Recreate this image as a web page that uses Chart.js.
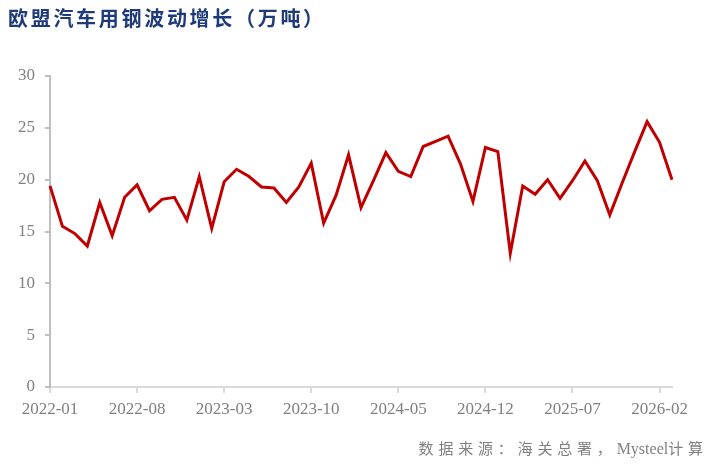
<!DOCTYPE html>
<html>
<head>
<meta charset="utf-8">
<script src="https://cdn.jsdelivr.net/npm/chart.js@4"></script>
<style>
  html, body { margin: 0; padding: 0; background: #ffffff; }
  #wrap { position: relative; width: 709px; height: 472px; overflow: hidden; }
  #chart { position: absolute; left: 0; top: 0; }
  #title { position: absolute; left: 8px; top: 3px; font-family: "Noto Sans CJK SC", sans-serif; font-weight: bold; font-size: 20px; letter-spacing: 2.7px; color: #1E3A78; white-space: nowrap; }
  #source { position: absolute; right: 6px; top: 437px; font-family: "Liberation Serif", "Noto Sans CJK SC", serif; font-size: 15px; color: #808080; white-space: nowrap; }
  #source .cjk { letter-spacing: 4.8px; }
  #source .lat { letter-spacing: 0; font-size: 16px; }
  #source .last { letter-spacing: 0; }
</style>
</head>
<body>
<div id="wrap">
  <canvas id="chart" width="709" height="472"></canvas>
  <div id="title">欧盟汽车用钢波动增长（万吨）</div>
  <div id="source"><span class="cjk">数据来源：海关总署，</span><span class="lat">Mysteel</span><span class="cjk">计</span><span class="last">算</span></div>
</div>
<script>
const months = [
  "2022-01","2022-02","2022-03","2022-04","2022-05","2022-06","2022-07","2022-08","2022-09","2022-10","2022-11","2022-12",
  "2023-01","2023-02","2023-03","2023-04","2023-05","2023-06","2023-07","2023-08","2023-09","2023-10","2023-11","2023-12",
  "2024-01","2024-02","2024-03","2024-04","2024-05","2024-06","2024-07","2024-08","2024-09","2024-10","2024-11","2024-12",
  "2025-01","2025-02","2025-03","2025-04","2025-05","2025-06","2025-07","2025-08","2025-09","2025-10","2025-11","2025-12",
  "2026-01","2026-02","2026-03"
];
const steelVolume = [
  19.4, 15.5, 14.8, 13.6, 17.8, 14.6, 18.3, 19.5, 17.0, 18.1, 18.3,
  16.1, 20.3, 15.3, 19.8, 21.0, 20.3, 19.3, 19.2, 17.8, 19.3,
  21.6, 15.8, 18.5, 22.4, 17.3, 19.9, 22.6, 20.8, 20.3, 23.2,
  23.7, 24.2, 21.5, 17.9, 23.1, 22.7, 12.9, 19.4, 18.6, 20.0,
  18.2, 19.9, 21.8, 19.9, 16.6, 19.7, 22.7, 25.6, 23.6, 20.0
];
const yTicks = [0, 5, 10, 15, 20, 25, 30];
const labelEvery = 7;

new Chart(document.getElementById('chart'), {
  type: 'line',
  data: {
    labels: months,
    datasets: [{
      data: steelVolume,
      borderColor: '#C00000',
      backgroundColor: '#C00000',
      borderWidth: 3,
      pointRadius: 0,
      tension: 0,
      fill: false
    }]
  },
  options: {
    responsive: false,
    animation: false,
    layout: { padding: { left: 0, right: 37, top: 76, bottom: 55 } },
    plugins: { legend: { display: false }, tooltip: { enabled: false }, title: { display: false } },
    scales: {
      x: {
        type: 'category',
        offset: false,
        afterFit: (s) => { s.height = 30; },
        border: { display: true, color: '#D9D9D9', width: 2 },
        grid: {
          display: true,
          drawOnChartArea: false,
          drawTicks: true,
          tickLength: 6,
          lineWidth: 2,
          color: (ctx) => (ctx.index % labelEvery === 0 ? '#D9D9D9' : 'rgba(0,0,0,0)')
        },
        ticks: {
          autoSkip: false,
          maxRotation: 0,
          minRotation: 0,
          padding: 6,
          color: '#808080',
          font: { family: 'Liberation Serif', size: 17 },
          callback: function (v, i) { return i % labelEvery === 0 ? months[i] : ''; }
        }
      },
      y: {
        min: 0,
        max: 30,
        afterFit: (s) => { s.width = 50; },
        afterBuildTicks: (s) => { s.ticks = yTicks.map(v => ({ value: v })); },
        border: { display: true, color: '#BFBFBF', width: 2 },
        grid: {
          display: true,
          drawOnChartArea: false,
          drawTicks: true,
          tickLength: 5,
          lineWidth: 2,
          color: '#BFBFBF'
        },
        ticks: {
          padding: 10,
          color: '#808080',
          font: { family: 'Liberation Serif', size: 17 }
        }
      }
    }
  }
});
</script>
</body>
</html>
